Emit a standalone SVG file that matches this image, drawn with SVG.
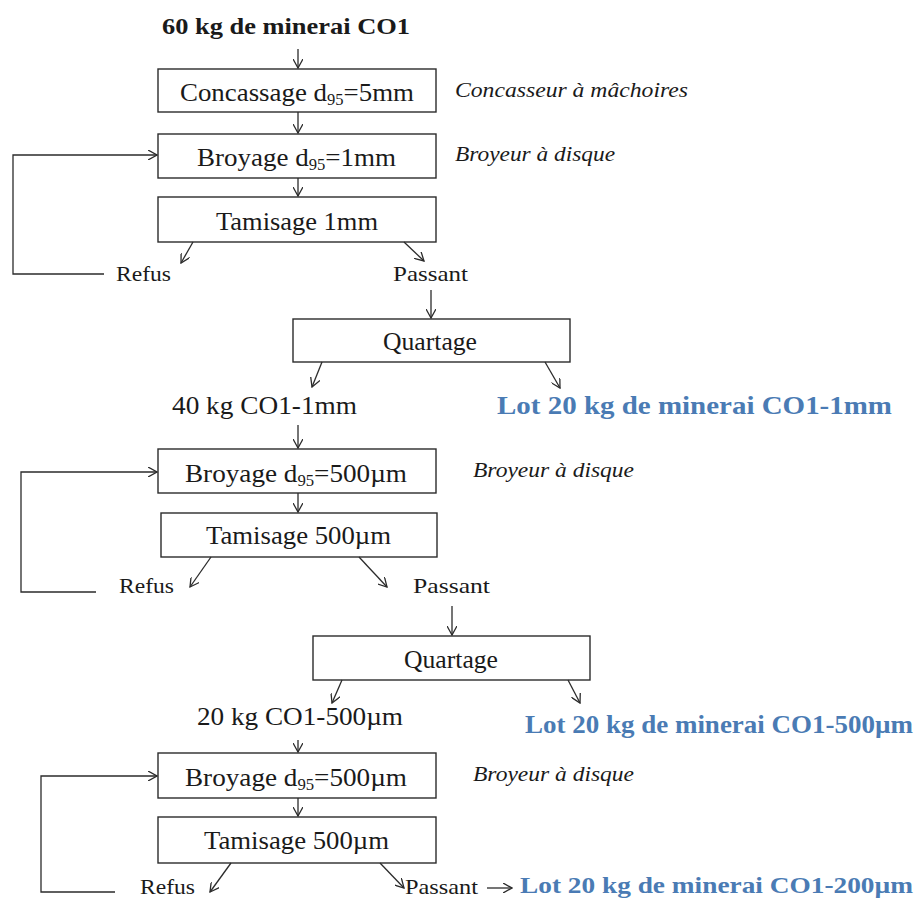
<svg xmlns="http://www.w3.org/2000/svg" width="916" height="900" viewBox="0 0 916 900">
<style>
.box{fill:#fff;stroke:#2b2b2b;stroke-width:1.4}
.t{font-family:'Liberation Serif','Times New Roman',Tinos,serif;font-size:26px;fill:#1a1a1a}
.s{font-size:21px}
.b{font-weight:bold;font-size:23px}
.i{font-family:'Liberation Serif','Times New Roman',Tinos,serif;font-style:italic;font-size:20px;fill:#1a1a1a}
.lot{font-family:'Liberation Serif','Times New Roman',Tinos,serif;font-weight:bold;font-size:25px;fill:#4a7bb4}
.c{fill:none;stroke:#2b2b2b;stroke-width:1.3}
.sub{font-size:16px}
</style>
<defs>
<marker id="ah" viewBox="0 0 10 10" refX="9" refY="5" markerWidth="10" markerHeight="10" markerUnits="userSpaceOnUse" orient="auto">
<path d="M0,0 L9,5 L0,10" fill="none" stroke="#2b2b2b" stroke-width="1.3"/>
</marker>
</defs>
<rect width="916" height="900" fill="#fff"/>
<text class="t b" x="162" y="34" textLength="248" lengthAdjust="spacingAndGlyphs">60 kg de minerai CO1</text>
<g id="n1"><rect class="box" x="158" y="69" width="278" height="43"/><text class="t" x="180" y="101" textLength="234" lengthAdjust="spacingAndGlyphs">Concassage d<tspan class="sub" dy="4">95</tspan><tspan dy="-4">=5mm</tspan></text></g>
<text class="i" x="455" y="97" textLength="233" lengthAdjust="spacingAndGlyphs">Concasseur à mâchoires</text>
<g id="n2"><rect class="box" x="158" y="134" width="278" height="44"/><text class="t" x="197" y="166" textLength="199" lengthAdjust="spacingAndGlyphs">Broyage d<tspan class="sub" dy="4">95</tspan><tspan dy="-4">=1mm</tspan></text></g>
<text class="i" x="455" y="161" textLength="160" lengthAdjust="spacingAndGlyphs">Broyeur à disque</text>
<g id="n3"><rect class="box" x="158" y="197" width="278" height="45"/><text class="t" x="216" y="230" textLength="162" lengthAdjust="spacingAndGlyphs">Tamisage 1mm</text></g>
<text class="t s" x="116" y="281" textLength="55" lengthAdjust="spacingAndGlyphs">Refus</text>
<text class="t s" x="393" y="281" textLength="75" lengthAdjust="spacingAndGlyphs">Passant</text>
<g id="n4"><rect class="box" x="293" y="319" width="277" height="43"/><text class="t" x="383" y="350" textLength="94" lengthAdjust="spacingAndGlyphs">Quartage</text></g>
<text class="t" x="172" y="414" textLength="185" lengthAdjust="spacingAndGlyphs">40 kg CO1-1mm</text>
<text class="lot" x="497" y="414" textLength="395" lengthAdjust="spacingAndGlyphs">Lot 20 kg de minerai CO1-1mm</text>
<g id="n5"><rect class="box" x="158" y="449" width="278" height="44"/><text class="t" x="185" y="482" textLength="222" lengthAdjust="spacingAndGlyphs">Broyage d<tspan class="sub" dy="4">95</tspan><tspan dy="-4">=500µm</tspan></text></g>
<text class="i" x="473" y="477" textLength="161" lengthAdjust="spacingAndGlyphs">Broyeur à disque</text>
<g id="n6"><rect class="box" x="161" y="513" width="276" height="44"/><text class="t" x="206" y="544" textLength="185" lengthAdjust="spacingAndGlyphs">Tamisage 500µm</text></g>
<text class="t s" x="119" y="593" textLength="55" lengthAdjust="spacingAndGlyphs">Refus</text>
<text class="t s" x="413" y="593" textLength="77" lengthAdjust="spacingAndGlyphs">Passant</text>
<g id="n7"><rect class="box" x="313" y="636" width="277" height="44"/><text class="t" x="404" y="668" textLength="94" lengthAdjust="spacingAndGlyphs">Quartage</text></g>
<text class="t" x="197" y="725" textLength="206" lengthAdjust="spacingAndGlyphs">20 kg CO1-500µm</text>
<text class="lot" x="525" y="733" textLength="388" lengthAdjust="spacingAndGlyphs">Lot 20 kg de minerai CO1-500µm</text>
<g id="n8"><rect class="box" x="158" y="753" width="278" height="45"/><text class="t" x="185" y="786" textLength="222" lengthAdjust="spacingAndGlyphs">Broyage d<tspan class="sub" dy="4">95</tspan><tspan dy="-4">=500µm</tspan></text></g>
<text class="i" x="473" y="781" textLength="161" lengthAdjust="spacingAndGlyphs">Broyeur à disque</text>
<g id="n9"><rect class="box" x="158" y="817" width="278" height="46"/><text class="t" x="204" y="849" textLength="185" lengthAdjust="spacingAndGlyphs">Tamisage 500µm</text></g>
<text class="t s" x="140" y="894" textLength="55" lengthAdjust="spacingAndGlyphs">Refus</text>
<text class="t s" x="405" y="894" textLength="73" lengthAdjust="spacingAndGlyphs">Passant</text>
<text class="lot" x="520" y="893" textLength="393" lengthAdjust="spacingAndGlyphs" style="font-size:23px">Lot 20 kg de minerai CO1-200µm</text>
<g id="connectors">
<path class="c" marker-end="url(#ah)" d="M298,49 V68"/>
<path class="c" marker-end="url(#ah)" d="M298,112 V133"/>
<path class="c" marker-end="url(#ah)" d="M298,178 V196"/>
<path class="c" marker-end="url(#ah)" d="M193,242 L181,263"/>
<path class="c" marker-end="url(#ah)" d="M404,242 L424,261"/>
<path class="c" marker-end="url(#ah)" d="M104,274 H13 V155 H157"/>
<path class="c" marker-end="url(#ah)" d="M431,290 V318"/>
<path class="c" marker-end="url(#ah)" d="M322,362 L312,387"/>
<path class="c" marker-end="url(#ah)" d="M545,362 L560,388"/>
<path class="c" marker-end="url(#ah)" d="M298,425 V448"/>
<path class="c" marker-end="url(#ah)" d="M298,493 V512"/>
<path class="c" marker-end="url(#ah)" d="M211,557 L190,587"/>
<path class="c" marker-end="url(#ah)" d="M359,557 L387,587"/>
<path class="c" marker-end="url(#ah)" d="M96,592 H21 V472 H157"/>
<path class="c" marker-end="url(#ah)" d="M452,606 V635"/>
<path class="c" marker-end="url(#ah)" d="M342,680 L332,703"/>
<path class="c" marker-end="url(#ah)" d="M568,680 L580,703"/>
<path class="c" marker-end="url(#ah)" d="M298,740 V752"/>
<path class="c" marker-end="url(#ah)" d="M298,798 V816"/>
<path class="c" marker-end="url(#ah)" d="M231,863 L210,892"/>
<path class="c" marker-end="url(#ah)" d="M380,863 L404,888"/>
<path class="c" marker-end="url(#ah)" d="M487,888 H512"/>
<path class="c" marker-end="url(#ah)" d="M115,892 H41 V776 H157"/>
</g>
</svg>
